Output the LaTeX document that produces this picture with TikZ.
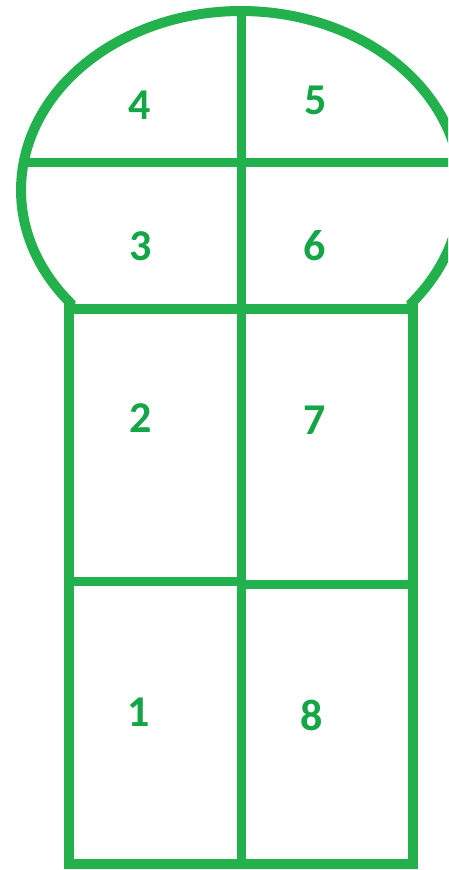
\documentclass[tikz,border=0pt]{standalone}
\usepackage{fontspec}
\setmainfont{Carlito}
\definecolor{hop}{RGB}{34,177,76}
\definecolor{hoptext}{RGB}{20,165,70}
\tikzset{
  outline/.style={draw=hop, line width=10pt, line join=miter},
  inner/.style={draw=hop, line width=9pt},
  num/.style={text=hoptext, font=\fontsize{44}{44}\bfseries\selectfont, inner sep=0pt}
}
\begin{document}
\begin{tikzpicture}[x=1pt,y=1pt]
\useasboundingbox (0,0) rectangle (448,870);
\clip (0,0) rectangle (448,870);
% head line and centre line
\draw[inner] (23.5,707) -- (465,707);
\draw[inner] (241,859) -- (241,6);
\draw[inner] (69,288) -- (241,288);
\draw[inner] (241,285) -- (413,285);
% body
\draw[outline] (69,561) -- (69,6) -- (413,6) -- (413,561) -- cycle;
% head arc
\draw[outline] (69,561) -- (70.3,567.1) arc[start angle=219.1, end angle=-39.1, x radius=220pt, y radius=179pt] -- (413,561);
% numbers
\node[num] (n4) at (140,765) {4};
\node[num] (n5) at (316,770) {5};
\node[num] (n3) at (141,624) {3};
\node[num] (n6) at (315,624) {6};
\node[num] (n2) at (141,452) {2};
\node[num] (n7) at (315,450) {7};
\node[num] (n1) at (139,158) {1};
\node[num] (n8) at (312,155) {8};
\end{tikzpicture}
\end{document}
